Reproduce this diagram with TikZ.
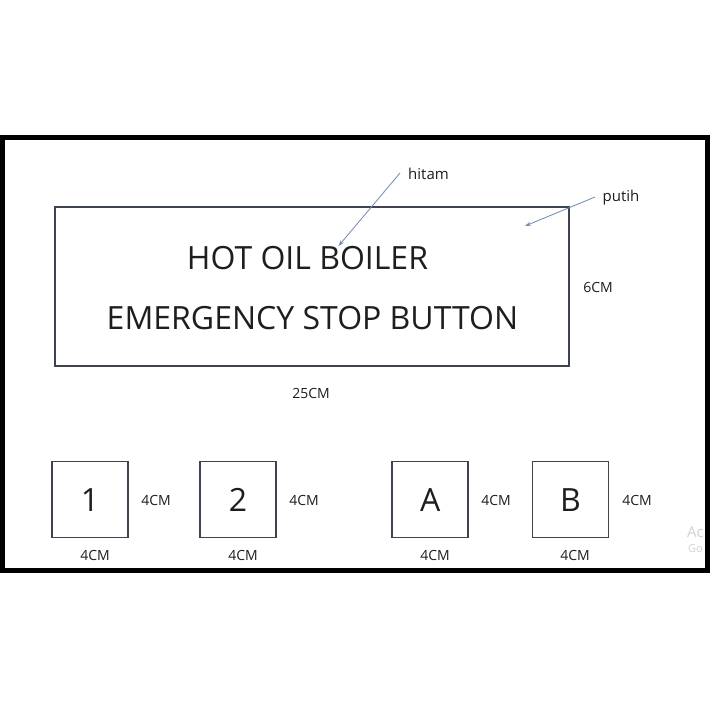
\documentclass[tikz,border=0pt]{standalone}
\usepackage{fontspec}
\setmainfont{Open Sans}
\usetikzlibrary{arrows.meta}
\definecolor{boxc}{HTML}{3E4350}
\definecolor{textc}{HTML}{1E1E1E}
\definecolor{arrowc}{HTML}{7088B8}
\definecolor{wmc}{HTML}{D2D2D2}
\begin{document}
\begin{tikzpicture}[x=1pt,y=-1pt,
  frame/.style={draw=black,line width=5pt},
  box/.style={draw=boxc,line width=1.8pt,inner sep=0pt},
  sq/.style={box,minimum width=76pt,minimum height=76pt},
  big/.style={font=\fontsize{32}{32}\selectfont,text=textc,anchor=base,inner sep=0pt},
  dim/.style={font=\fontsize{14}{14}\selectfont,text=textc,anchor=base,inner sep=0pt},
  note/.style={font=\fontsize{15}{15}\selectfont,text=textc,anchor=base,inner sep=0pt},
  wm/.style={text=wmc,anchor=base west,inner sep=0pt},
  pointer/.style={draw=arrowc,line width=0.8pt,-{Stealth[length=6pt,width=4pt]}}]
\useasboundingbox (0,0) rectangle (710,710);
\fill[white] (0,0) rectangle (710,710);
% watermark fragments, clipped by the frame
\begin{scope}
\clip (0,0) rectangle (705,710);
\node[wm,font=\fontsize{15}{15}\selectfont] (wa) at (687,537) {Ac};
\node[wm,font=\fontsize{11}{11}\selectfont] (wg) at (688,552) {Go};
\end{scope}
\draw[frame] (2.5,137.5) rectangle (707,570.5);
% main panel
\node[box,minimum width=514pt,minimum height=159pt] (panel) at (312,286.5) {};
\node[big] (l1) at (307.5,269.5) {HOT OIL BOILER};
\node[big] (l2) at (312.5,329.5) {EMERGENCY STOP BUTTON};
\node[dim] (h6) at (598,292.3) {6CM};
\node[dim] (w25) at (311,398.3) {25CM};
% notes with pointers
\node[note] (hitam) at (428.5,179) {hitam};
\node[note] (putih) at (621,201.5) {putih};
\coordinate (hs) at (400,173);
\coordinate (ht) at (338.5,246);
\coordinate (ps) at (595,197);
\coordinate (pt) at (525,226);
\draw[pointer] (hs) -- (ht);
\draw[pointer] (ps) -- (pt);
% small squares
\node[sq] (s1) at (90,499.5) {};
\node[sq] (s2) at (238,499.5) {};
\node[sq] (sa) at (430.3,499.5) {};
\node[sq] (sb) at (570.5,499.5) {};
\node[big] at (90,511.5) {1};
\node[big] at (238,511.5) {2};
\node[big] at (430.3,511.5) {A};
\node[big] at (570.5,511.5) {B};
\node[dim] (r1) at (156,505) {4CM};
\node[dim] (r2) at (304,505) {4CM};
\node[dim] (ra) at (496,505) {4CM};
\node[dim] (rb) at (637,505) {4CM};
\node[dim] (b1) at (95,560) {4CM};
\node[dim] (b2) at (243,560) {4CM};
\node[dim] (ba) at (435,560) {4CM};
\node[dim] (bb) at (575,560) {4CM};
\end{tikzpicture}
\end{document}
